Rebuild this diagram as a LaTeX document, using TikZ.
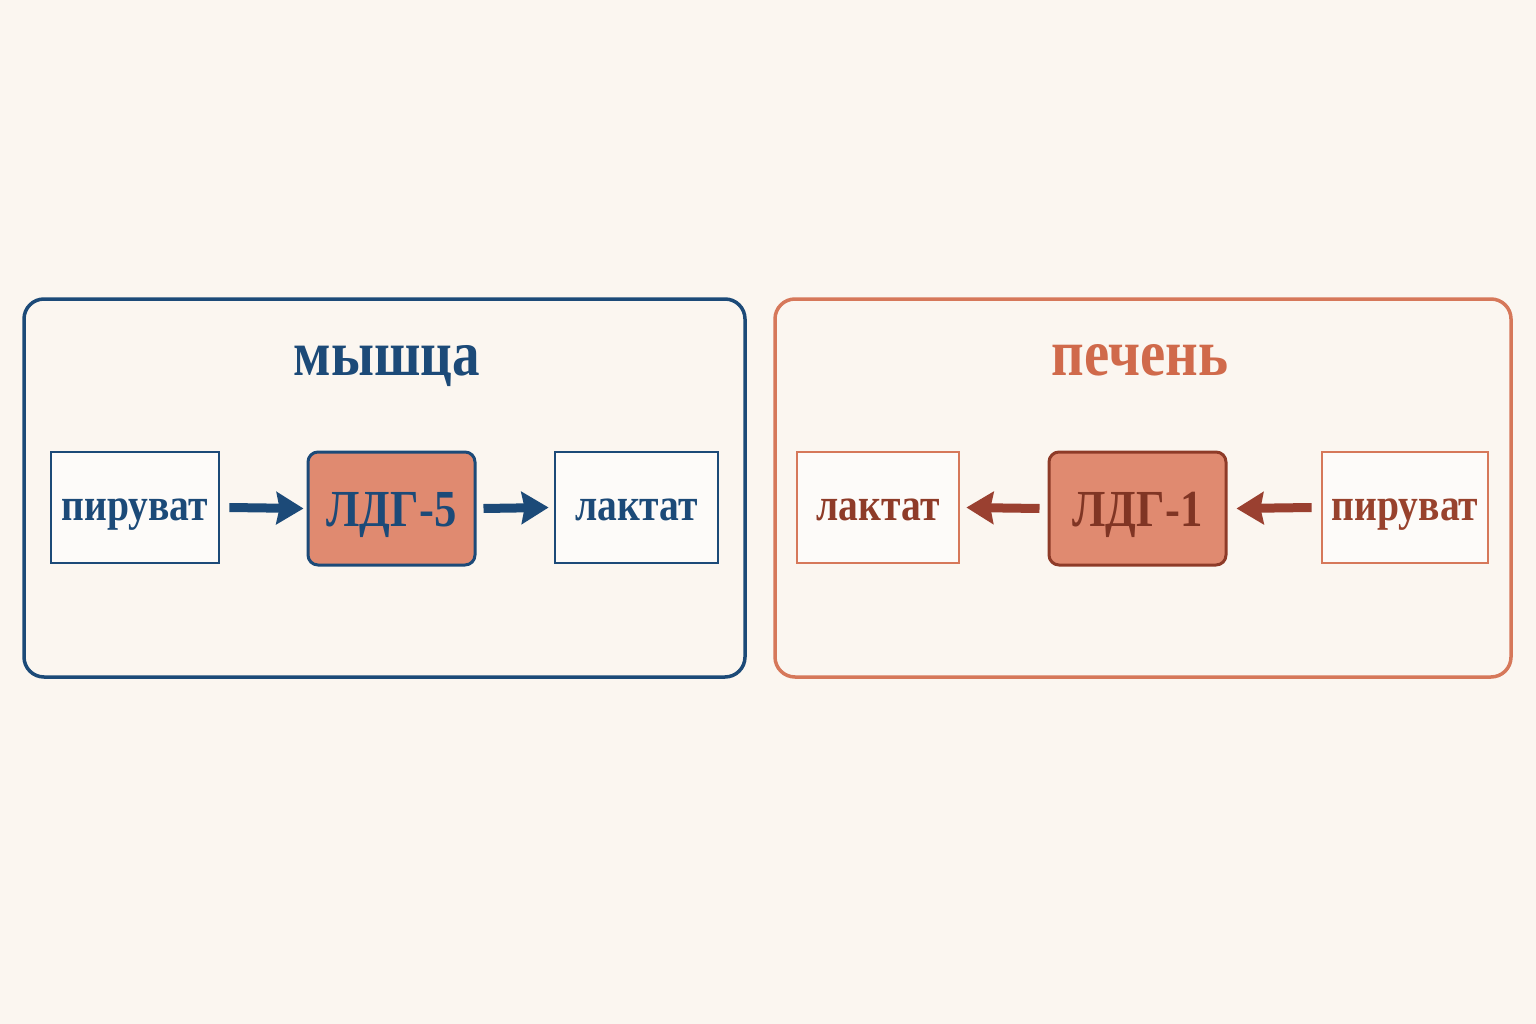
\documentclass[tikz,border=0pt]{standalone}
\usepackage{fontspec}
\setmainfont{Liberation Serif}[FakeStretch=0.86]
\usetikzlibrary{arrows.meta}
\definecolor{bg}{HTML}{FBF6F0}
\definecolor{navy}{HTML}{1C4A78}
\definecolor{frameor}{HTML}{D6785A}
\definecolor{titleor}{HTML}{D06A4B}
\definecolor{enzfill}{HTML}{E08A70}
\definecolor{darkred}{HTML}{8E3B28}
\definecolor{arrred}{HTML}{9A4030}
\tikzset{
  panel/.style={draw, line width=3.5pt, rounded corners=20pt},
  plainbox/.style={draw, line width=2.8pt, fill=white!60!bg, minimum height=111pt, inner sep=0pt, text height=26pt, text depth=0pt, font=\fontsize{46}{50}\selectfont\bfseries},
  enzbox/.style={draw, line width=3pt, fill=enzfill, rounded corners=10pt, minimum height=113pt, inner sep=0pt, text height=35pt, text depth=0pt, font=\fontsize{52}{56}\selectfont\bfseries},
  titletext/.style={inner sep=0pt, text height=32pt, text depth=0pt, font=\fontsize{64}{68}\selectfont\bfseries},
  flow/.style={line width=9pt, -{Stealth[length=27pt,width=32pt,inset=3pt]}},
}
\begin{document}
\begin{tikzpicture}[x=1pt,y=-1pt]
\useasboundingbox[fill=bg] (0,0) rectangle (1536,1024);
% left panel
\node[panel, color=navy, minimum width=721pt, minimum height=378pt] (mus) at (384.5,488) {};
\node[titletext, text=navy] (must) at (387,359) {мышца};
\node[plainbox, draw=navy, text=navy, minimum width=168pt] (pyr1) at (135,507.5) {пируват};
\node[enzbox, draw=navy, text=navy, minimum width=167pt] (ldh5) at (391.5,508.5) {ЛДГ-5};
\node[plainbox, draw=navy, text=navy, minimum width=163pt] (lac1) at (636.5,507.5) {лактат};
\draw[flow, navy] ([xshift=9pt]pyr1.east) -- ([xshift=-3pt]ldh5.west);
\draw[flow, navy] ([xshift=7pt]ldh5.east) -- ([xshift=-5pt]lac1.west);
% right panel
\node[panel, color=frameor, minimum width=736pt, minimum height=378pt] (liv) at (1143,488) {};
\node[titletext, text=titleor, font=\fontsize{66}{70}\selectfont\bfseries] (livt) at (1140,359) {печень};
\node[plainbox, draw=frameor, text=darkred, minimum width=162pt] (lac2) at (878,507.5) {лактат};
\node[enzbox, draw=darkred, text=darkred!90!black, minimum width=177pt] (ldh1) at (1137.5,508.5) {ЛДГ-1};
\node[plainbox, draw=frameor, text=darkred!85!titleor, minimum width=166pt] (pyr2) at (1405,507.5) {пируват};
\draw[flow, arrred] ([xshift=-8pt]ldh1.west) -- ([xshift=6pt]lac2.east);
\draw[flow, arrred] ([xshift=-9pt]pyr2.west) -- ([xshift=9pt]ldh1.east);
\end{tikzpicture}
\end{document}
